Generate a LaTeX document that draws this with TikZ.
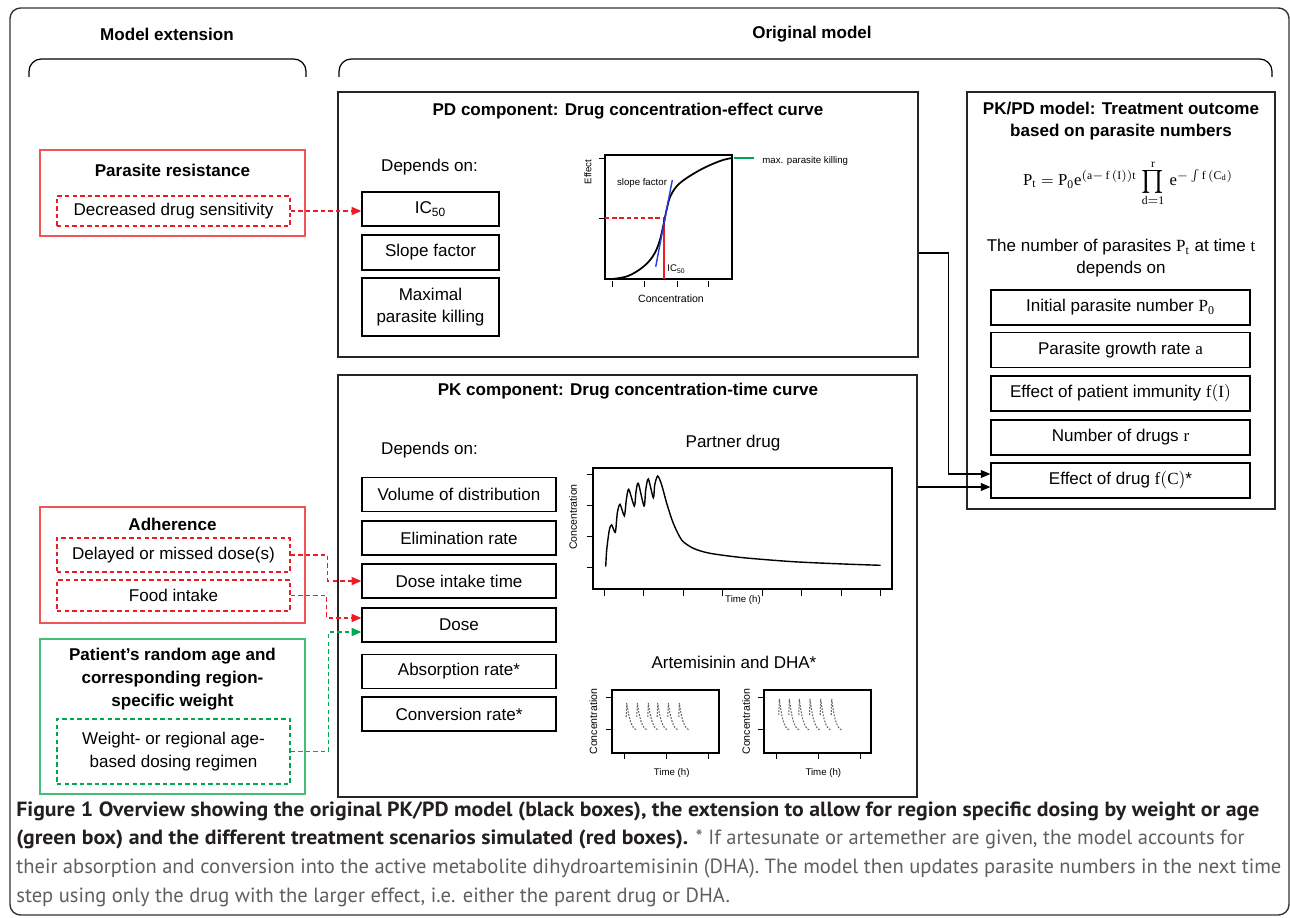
\documentclass[tikz,border=0pt]{standalone}
\usepackage{amsmath}
\usepackage{fontspec}
\setmainfont{Liberation Sans}
\setmathrm{Liberation Serif}
\usetikzlibrary{arrows.meta,positioning,calc}
\definecolor{resred}{RGB}{237,28,36}
\definecolor{boxred}{RGB}{240,85,85}
\definecolor{dosegreen}{RGB}{0,166,81}
\definecolor{boxgreen}{RGB}{70,190,120}
\definecolor{fitblue}{RGB}{40,60,220}
\definecolor{capdark}{RGB}{35,31,32}
\definecolor{capgray}{RGB}{95,95,95}
\newfontfamily\capfont[BoldFeatures={FakeStretch=1.06}]{PT Sans}
\newcommand{\fs}{\fontsize{9.7}{12.5}\selectfont}
\newcommand{\tinyfs}{\fontsize{5.5}{6.5}\selectfont}
\newcommand{\midprod}{\mathop{\vcenter{\hbox{\scalebox{1.45}{$\textstyle\prod$}}}}}

\begin{document}
\begin{tikzpicture}[x=0.02cm,y=-0.02cm,
    panel/.style={draw=black!85,line width=0.9pt,inner sep=0pt},
    item/.style={draw,line width=0.7pt,inner sep=0pt,align=center,font=\fs},
    pditem/.style={item,minimum width=2.74cm,minimum height=0.68cm},
    pkitem/.style={item,minimum width=3.88cm,minimum height=0.68cm},
    outitem/.style={item,minimum width=5.18cm,minimum height=0.7cm},
    heading/.style={font=\fs\bfseries,align=center},
    plain/.style={font=\fs,align=center},
    scenario/.style={draw=boxred,line width=0.8pt,inner sep=0pt,minimum width=5.3cm},
    dosing/.style={draw=boxgreen,line width=0.8pt,inner sep=0pt,minimum width=5.3cm},
    redopt/.style={draw=resred,dash pattern=on 2.5pt off 1.8pt,line width=0.7pt,inner sep=0pt,align=center,font=\fs,minimum width=4.66cm},
    greenopt/.style={draw=dosegreen,dash pattern=on 2.5pt off 1.8pt,line width=0.7pt,inner sep=0pt,align=center,font=\fs,minimum width=4.66cm},
    reddash/.style={resred,dash pattern=on 2.5pt off 1.8pt,line width=0.8pt},
    greendash/.style={dosegreen,dash pattern=on 2.5pt off 1.8pt,line width=0.8pt},
    axlab/.style={font=\tinyfs,inner sep=0pt},
    spike/.style={black!60,dash pattern=on 1pt off 0.8pt,line width=0.6pt},
    >={Triangle[length=5.5pt,width=4.5pt]}
]
\useasboundingbox (0,0) rectangle (1290,918);
\draw[black!80,line width=0.8pt,rounded corners=6pt] (10,8) rectangle (1289,915);

% headers
\node[heading] (extlab) at (167,34) {Model extension};
\node[heading] (origlab) at (812,34) {Original model};
\draw[line width=0.7pt,rounded corners=7pt] (29,77) -- (29,59) -- (306,59) -- (306,77);
\draw[line width=0.7pt,rounded corners=7pt] (339,77) -- (339,59) -- (1272,59) -- (1272,77);

% PD component
\node[panel,minimum width=11.6cm,minimum height=5.3cm] (pd) at (628,224.5) {};
\node[heading] (pdtitle) at (628,111) {PD component: Drug concentration-effect curve};
\node[plain,anchor=west] (pddep) at (375,167) {Depends on:};
\node[pditem] (ic) at (430.5,209) {IC\textsubscript{50}};
\node[pditem,minimum height=0.7cm] (slope) at (430.5,252.5) {Slope factor};
\node[pditem,minimum height=1.16cm] (maxkill) at (430.5,307) {Maximal\\parasite killing};

% concentration-effect plot
\draw[line width=0.6pt] (605,155) rectangle (732,279);
\foreach \y in {158,218} \draw[line width=0.5pt] (599,\y) -- (605,\y);
\foreach \x in {612,644,677,708} \draw[line width=0.5pt] (\x,281) -- (\x,287);
\draw[resred,dash pattern=on 2.5pt off 1.6pt,line width=0.8pt] (605,218) -- (664,218);
\draw[resred,line width=0.9pt] (664,218) -- (664,279);
\draw[line width=1pt] plot[smooth,tension=0.6] coordinates {(612,279) (628,276) (643,267) (653,256) (659,243) (663,227) (667,208) (671,195) (680,183) (700,170) (720,161) (732,158)};
\draw[fitblue,line width=0.8pt] (655.7,266.7) -- (672.3,180);
\draw[dosegreen,line width=0.8pt] (734,158) -- (754,158);
\node[axlab,anchor=west] (maxlab) at (762,161) {max. parasite killing};
\node[axlab] (slopelab) at (642,183) {slope factor};
\node[axlab,anchor=west] (iclab) at (667,269) {IC\textsubscript{50}};
\node[axlab,rotate=90] (effaxis) at (588,172) {Effect};
\node[axlab,font=\fontsize{6}{7}\selectfont] (concaxis) at (671,299) {Concentration};

% PK component
\node[panel,minimum width=11.58cm,minimum height=8.44cm] (pk) at (627.5,586) {};
\node[heading] (pktitle) at (628,391) {PK component: Drug concentration-time curve};
\node[plain,anchor=west] (pkdep) at (375,450) {Depends on:};
\node[pkitem] (vol) at (459,494.5) {Volume of distribution};
\node[pkitem] (elim) at (459,538) {Elimination rate};
\node[pkitem] (dit) at (459,581) {Dose intake time};
\node[pkitem] (dose) at (459,625) {Dose};
\node[pkitem] (absr) at (459,671.5) {Absorption rate*};
\node[pkitem] (conv) at (459,714) {Conversion rate*};

% partner drug plot
\node[plain] (partlab) at (733,443) {Partner drug};
\draw[line width=0.6pt] (593,468) rectangle (892,589);
\foreach \y in {474,505,536,567} \draw[line width=0.5pt] (587,\y) -- (593,\y);
\foreach \i in {0,...,7} \draw[line width=0.5pt] ({604.3+39.5*\i},590) -- ++(0,6);
\draw[line width=0.8pt] plot[smooth,tension=0.45] coordinates {(605.7,566.7) (606.7,550) (609.3,530) (611.7,525) (615.3,532.3) (617.3,513) (620,504.3) (624.3,515.7) (626.3,500) (628.7,489.3) (634.3,506) (636,491.7) (638.3,483.3) (644,506) (645.7,490) (648.3,479) (653.3,497.7) (654.7,485) (657.7,476) (661.7,485) (666.7,503.3) (673.3,523.3) (681.7,540) (693.3,548.3) (710,553.3) (743.3,557.7) (793.3,561.7) (843.3,564) (880.7,565.3)};
\node[axlab] (parttime) at (743,600) {Time (h)};
\node[axlab,rotate=90,font=\fontsize{6}{7}\selectfont] (partconc) at (573,517) {Concentration};

% artemisinin and DHA plots
\node[plain] (artlab) at (734,662) {Artemisinin and DHA*};
\foreach \dx in {0,152} {
  \draw[line width=0.6pt] (612+\dx,690) rectangle (719+\dx,753);
  \draw[line width=0.5pt] (606+\dx,697) -- (612+\dx,697);
  \draw[line width=0.5pt] (606+\dx,729) -- (612+\dx,729);
  \foreach \x in {624,666,708} \draw[line width=0.5pt] (\x+\dx,754) -- (\x+\dx,759);
}
\foreach \p in {626.7,637.3,648.3,657.7,668.3,679.3}
  \draw[spike] (\p-0.5,717) -- (\p,703) .. controls (\p+2,716) and (\p+4,728) .. (\p+10,730);
\foreach \p in {779.3,789.3,799.3,810,820.7,831.7}
  \draw[spike] (\p-0.5,715) -- (\p,699) .. controls (\p+2,714) and (\p+4,728) .. (\p+10,730);
\node[axlab] (arttime1) at (671.7,773) {Time (h)};
\node[axlab] (arttime2) at (823.3,773) {Time (h)};
\node[axlab,rotate=90,font=\fontsize{6}{7}\selectfont] (artconc1) at (593.3,721.7) {Concentration};
\node[axlab,rotate=90,font=\fontsize{6}{7}\selectfont] (artconc2) at (746,721.7) {Concentration};

% PK/PD model
\node[panel,minimum width=6.16cm,minimum height=8.34cm] (pkpd) at (1121,300.5) {};
\node[heading] (pkpdtitle) at (1121,121) {PK/PD model: Treatment outcome\\based on parasite numbers};
\node[plain,inner sep=0pt,font=\fontsize{9.5}{11}\selectfont] (formula) at (1128,183) {$\mathrm{P_t = P_0e^{(a-\,f\,(I))t}\,\midprod\limits_{d=1}^{r}\,e^{-\int f\,(C_d)}}$};
\node[plain] (ptext) at (1121,258) {The number of parasites $\mathrm{P_t}$ at time $\mathrm{t}$\\depends on};
\node[outitem] (init) at (1120.5,307.5) {Initial parasite number $\mathrm{P_0}$};
\node[outitem] (growth) at (1120.5,350) {Parasite growth rate $\mathrm{a}$};
\node[outitem] (immun) at (1120.5,393.5) {Effect of patient immunity $\mathrm{f(I)}$};
\node[outitem] (ndrug) at (1120.5,437.5) {Number of drugs $\mathrm{r}$};
\node[outitem] (eff) at (1120.5,480.5) {Effect of drug $\mathrm{f(C)}$*};

% model extension
\node[scenario,minimum height=1.72cm] (resist) at (172.5,193) {};
\node[heading] (resisttitle) at (172.5,170) {Parasite resistance};
\node[redopt,minimum height=0.6cm] (dds) at (173.5,211) {Decreased drug sensitivity};
\node[scenario,minimum height=2.32cm] (adher) at (172.5,565) {};
\node[heading] (adhertitle) at (172.5,524) {Adherence};
\node[redopt,minimum height=0.68cm] (del) at (173.5,555) {Delayed or missed dose(s)};
\node[redopt,minimum height=0.62cm] (food) at (173.5,595.5) {Food intake};
\node[dosing,minimum height=3.1cm] (patient) at (172.5,716.5) {};
\node[heading,font=\fontsize{9.7}{13}\selectfont\bfseries] (patienttitle) at (172.5,679) {Patient's random age and\\corresponding region-\\specific weight};
\node[greenopt,minimum height=1.3cm,font=\fontsize{9.7}{13}\selectfont] (wreg) at (173.5,751.5) {Weight- or regional age-\\based dosing regimen};

% connectors
\draw[reddash,->] (dds.east) -- (dds.east -| ic.west);
\draw[reddash,->] (del.east) -- ++(37,0) |- (dit.west);
\coordinate (dosein1) at ([yshift=4pt]dose.west);
\coordinate (dosein2) at ([yshift=-4pt]dose.west);
\draw[reddash,->] (food.east) -- ++(36,0) |- (dosein1);
\draw[greendash,->] (wreg.east) -- ++(38,0) |- (dosein2);
\coordinate (effin1) at ([yshift=3.7pt]eff.west);
\coordinate (effin2) at ([yshift=-3.7pt]eff.west);
\draw[->,line width=0.7pt] ([yshift=-16.2pt]pd.east) -- ++(30,0) |- (effin1);
\draw[->,line width=0.7pt] (pk.east |- effin2) -- (effin2);

% caption
\node[anchor=north west,align=left,inner sep=0pt,font=\capfont\fontsize{11.7}{16.4}\selectfont] (caption) at (16,801) {{\bfseries\color{capdark}Figure 1 Overview showing the original PK/PD model (black boxes), the extension to allow for region specific dosing by weight or age}\\{\bfseries\color{capdark}(green box) and the different treatment scenarios simulated (red boxes).} \color{capgray}* If artesunate or artemether are given, the model accounts for\\\color{capgray}their absorption and conversion into the active metabolite dihydroartemisinin (DHA). The model then updates parasite numbers in the next time\\\color{capgray}step using only the drug with the larger effect, i.e. either the parent drug or DHA.};
\end{tikzpicture}
\end{document}
